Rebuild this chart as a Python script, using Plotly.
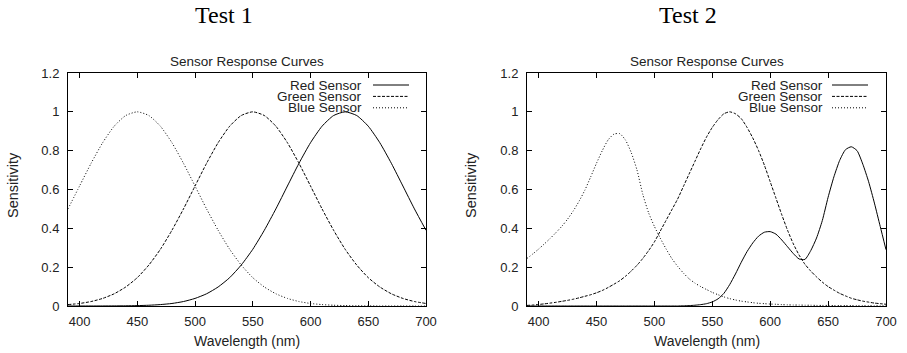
import plotly.graph_objects as go

W, H = 907, 353

# ---------------- data ----------------
wl_test1 = list(range(390, 701, 10))
red_test1 = [0.00002, 0.00004, 0.0001, 0.0002, 0.0005, 0.001, 0.002, 0.0039, 0.0073, 0.013,
             0.023, 0.039, 0.063, 0.098, 0.146, 0.211, 0.292, 0.390, 0.50, 0.618,
             0.735, 0.841, 0.926, 0.981, 1.0, 0.981, 0.926, 0.841, 0.735, 0.618,
             0.50, 0.39]
green_test1 = [0.0073, 0.013, 0.023, 0.039, 0.063, 0.098, 0.146, 0.211, 0.292, 0.390,
               0.50, 0.618, 0.735, 0.841, 0.926, 0.981, 1.0, 0.981, 0.926, 0.841,
               0.735, 0.618, 0.50, 0.390, 0.292, 0.211, 0.146, 0.098, 0.063, 0.039,
               0.023, 0.013]
blue_test1 = [0.50, 0.618, 0.735, 0.841, 0.926, 0.981, 1.0, 0.981, 0.926, 0.841,
              0.735, 0.618, 0.50, 0.390, 0.292, 0.211, 0.146, 0.098, 0.063, 0.039,
              0.023, 0.013, 0.0073, 0.0039, 0.002, 0.001, 0.0005, 0.0002, 0.0001, 0.00004,
              0.00002, 0.00001]

wl_test2 = list(range(390, 701, 5))
red_test2 = [0.0] * 27 + [0.001, 0.002, 0.004, 0.007, 0.012, 0.021, 0.037, 0.065, 0.11,
                          0.165, 0.225, 0.28, 0.325, 0.36, 0.38, 0.383, 0.37, 0.34, 0.305,
                          0.27, 0.242, 0.24, 0.285, 0.35, 0.44, 0.56, 0.665, 0.75, 0.805,
                          0.82, 0.80, 0.73, 0.64, 0.53, 0.41, 0.29]
green_test2 = [0.003, 0.005, 0.008, 0.011, 0.015, 0.019, 0.024, 0.029, 0.035, 0.042,
               0.05, 0.058, 0.068, 0.08, 0.095, 0.112, 0.13, 0.153, 0.18, 0.21,
               0.245, 0.285, 0.33, 0.385, 0.44, 0.495, 0.55, 0.615, 0.68, 0.745,
               0.81, 0.87, 0.92, 0.96, 0.99, 1.0, 0.99, 0.965, 0.92, 0.865,
               0.80, 0.725, 0.64, 0.555, 0.47, 0.39, 0.32, 0.262, 0.215, 0.18,
               0.15, 0.123, 0.10, 0.082, 0.065, 0.052, 0.04, 0.032, 0.025, 0.02,
               0.015, 0.012, 0.009]
blue_test2 = [0.245, 0.268, 0.293, 0.32, 0.348, 0.378, 0.41, 0.447, 0.49, 0.54,
              0.597, 0.665, 0.735, 0.80, 0.855, 0.885, 0.888, 0.855, 0.79, 0.70,
              0.575, 0.48, 0.41, 0.35, 0.295, 0.245, 0.205, 0.17, 0.14, 0.118,
              0.10, 0.085, 0.07, 0.058, 0.047, 0.038, 0.031, 0.025, 0.021, 0.017,
              0.014, 0.012, 0.010, 0.009, 0.007, 0.006, 0.005, 0.005, 0.004, 0.004,
              0.003, 0.003, 0.003, 0.002, 0.002, 0.002, 0.002, 0.001, 0.001, 0.001,
              0.001, 0.001, 0.001]

series_names = ["Red Sensor", "Green Sensor", "Blue Sensor"]
panel_titles = ["Test 1", "Test 2"]
plot_title = "Sensor Response Curves"
x_title = "Wavelength (nm)"
y_title = "Sensitivity"
x_ticks = [400, 450, 500, 550, 600, 650, 700]
y_ticks = [0, 0.2, 0.4, 0.6, 0.8, 1, 1.2]

# ---------------- styling ----------------
dashes = ["solid", "3px,1.5px", "1px,2px"]
FONT = "Liberation Sans, Arial, Helvetica, sans-serif"
SERIF = "Liberation Serif, Times New Roman, serif"
TXT = "#222"

def px(x):
    return x / W

def py(y):
    return 1 - y / H

panels = [
    dict(x0=68, x1=426, xref="x", yref="y", data=(wl_test1, [red_test1, green_test1, blue_test1]),
         title_x=224, ylab_x=13, leg_text_x=363, leg_line=(373, 409)),
    dict(x0=527, x1=886, xref="x2", yref="y2", data=(wl_test2, [red_test2, green_test2, blue_test2]),
         title_x=688, ylab_x=471, leg_text_x=824, leg_line=(832, 868)),
]
top, bottom = 73, 306

fig = go.Figure()
annotations = []
shapes = []
for i, p in enumerate(panels):
    xs, ys_list = p["data"]
    for name, ys, dash in zip(series_names, ys_list, dashes):
        fig.add_trace(go.Scatter(
            x=xs, y=ys, mode="lines", name=name,
            line=dict(color="black", width=1, dash=dash, shape="spline", smoothing=0.6),
            xaxis=p["xref"], yaxis=p["yref"], showlegend=False, hoverinfo="skip"))
    cx = (p["x0"] + p["x1"]) / 2
    annotations.append(dict(text=panel_titles[i], x=px(p["title_x"]), y=py(15), xref="paper", yref="paper",
                            showarrow=False, xanchor="center", yanchor="middle",
                            font=dict(family=SERIF, size=24, color="black")))
    annotations.append(dict(text=plot_title, x=px(cx), y=py(61), xref="paper", yref="paper",
                            showarrow=False, xanchor="center", yanchor="middle",
                            font=dict(family=FONT, size=13.5, color=TXT)))
    annotations.append(dict(text=x_title, x=px(cx), y=py(341), xref="paper", yref="paper",
                            showarrow=False, xanchor="center", yanchor="middle",
                            font=dict(family=FONT, size=14, color=TXT)))
    annotations.append(dict(text=y_title, x=px(p["ylab_x"]), y=py(185), xref="paper", yref="paper",
                            showarrow=False, xanchor="center", yanchor="middle", textangle=-90,
                            font=dict(family=FONT, size=14.5, color=TXT)))
    # legend (gnuplot-style: text right-aligned, sample line at right)
    for k, (name, dash) in enumerate(zip(series_names, dashes)):
        yy = 85 + k * 11.4
        annotations.append(dict(text=name, x=px(p["leg_text_x"]), y=py(yy), xref="paper", yref="paper",
                                showarrow=False, xanchor="right", yanchor="middle",
                                borderpad=0,
                                font=dict(family=FONT, size=13.5, color=TXT)))
        shapes.append(dict(type="line", xref="paper", yref="paper",
                           x0=px(p["leg_line"][0]), x1=px(p["leg_line"][1]), y0=py(yy), y1=py(yy),
                           line=dict(color="black", width=1, dash=dash)))

axis_common = dict(showline=True, linecolor="black", linewidth=1, mirror="allticks",
                   ticks="inside", ticklen=5, tickcolor="black", tickwidth=1,
                   showgrid=False, zeroline=False, automargin=False,
                   tickfont=dict(family=FONT, size=13, color=TXT))

fig.update_layout(
    width=W, height=H,
    margin=dict(l=0, r=0, t=0, b=0, autoexpand=False),
    paper_bgcolor="white", plot_bgcolor="white",
    showlegend=False,
    annotations=annotations,
    shapes=shapes,
    xaxis=dict(domain=[px(68), px(426)], range=[390, 700], tickvals=x_ticks, anchor="y",
               ticklabelstandoff=3, **axis_common),
    yaxis=dict(domain=[py(bottom), py(top)], range=[0, 1.2], tickvals=y_ticks, anchor="x",
               ticklabelstandoff=5, **axis_common),
    xaxis2=dict(domain=[px(527), px(886)], range=[390, 700], tickvals=x_ticks, anchor="y2",
                ticklabelstandoff=3, **axis_common),
    yaxis2=dict(domain=[py(bottom), py(top)], range=[0, 1.2], tickvals=y_ticks, anchor="x2",
                ticklabelstandoff=5, **axis_common),
)

fig.write_html("out.html", config={"displayModeBar": False},
               post_script="document.body.style.margin='0';document.body.style.overflow='hidden';")
